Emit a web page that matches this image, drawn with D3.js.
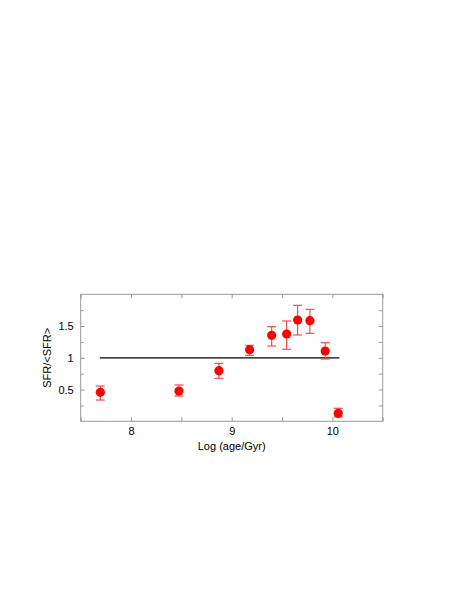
<!DOCTYPE html>
<html><head><meta charset="utf-8">
<script src="https://cdn.jsdelivr.net/npm/d3@7"></script>
<style>body{margin:0;background:#fff}svg{display:block}text{font-family:"Liberation Sans",Arial,sans-serif}</style>
</head><body>
<script>
const logAge = [7.695, 8.476, 8.873, 9.178, 9.397, 9.546, 9.655, 9.777, 9.929, 10.058];
const sfr    = [0.457, 0.477, 0.797, 1.128, 1.354, 1.375, 1.595, 1.584, 1.107, 0.126];
const errHi  = [0.556, 0.572, 0.913, 1.197, 1.490, 1.580, 1.827, 1.764, 1.238, 0.205];
const errLo  = [0.335, 0.398, 0.677, 1.039, 1.186, 1.134, 1.359, 1.386, 0.981, 0.068];
const refLineX = [7.69, 10.07];
const refLineY = [1, 1];
const xTicks = [8, 9, 10];
const xMinor = [7.5, 8.5, 9.5, 10.5];
const yTicks = [0.5, 1, 1.5];
const yMinor = [0.25, 0.75, 1.25, 1.75];
const yTickLabels = ["0.5", "1", "1.5"];

const W = 463, H = 599;
const svg = d3.select("body").append("svg").attr("width", W).attr("height", H);
const x = d3.scaleLinear().domain([7.5, 10.5]).range([80.7, 382.7]);
const y = d3.scaleLinear().domain([0, 2]).range([421.3, 294.3]);
const frame = "#999";

// frame
svg.append("rect").attr("x", x(7.5)).attr("y", y(2)).attr("width", x(10.5) - x(7.5)).attr("height", y(0) - y(2))
  .attr("fill", "none").attr("stroke", frame).attr("stroke-width", 1);

const tl = 4, tm = 3;
// bottom/top ticks
const bx = svg.append("g").attr("transform", `translate(0,${y(0)})`)
  .call(d3.axisBottom(x).tickValues(xTicks).tickSize(-tl).tickFormat(d3.format("d")).tickPadding(6));
const tx = svg.append("g").attr("transform", `translate(0,${y(2)})`)
  .call(d3.axisTop(x).tickValues(xTicks.concat(xMinor)).tickSize(-tl).tickFormat(""));
const bxm = svg.append("g").attr("transform", `translate(0,${y(0)})`)
  .call(d3.axisBottom(x).tickValues(xMinor).tickSize(-tl).tickFormat(""));
const ly = svg.append("g").attr("transform", `translate(${x(7.5)},0)`)
  .call(d3.axisLeft(y).tickValues(yTicks).tickSize(-tl).tickFormat((d, i) => yTickLabels[i]).tickPadding(7));
const lym = svg.append("g").attr("transform", `translate(${x(7.5)},0)`)
  .call(d3.axisLeft(y).tickValues(yMinor).tickSize(-tm).tickFormat(""));
const ry = svg.append("g").attr("transform", `translate(${x(10.5)},0)`)
  .call(d3.axisRight(y).tickValues(yTicks.concat(yMinor)).tickSize(-tl).tickFormat(""));
[bx, tx, bxm, ly, lym, ry].forEach(g => {
  g.select(".domain").remove();
  g.selectAll("line").attr("stroke", frame);
  g.selectAll("text").attr("fill", "#000").style("font-size", "11px");
});

// reference line
svg.append("line").attr("x1", x(refLineX[0])).attr("x2", x(refLineX[1]))
  .attr("y1", y(refLineY[0])).attr("y2", y(refLineY[1])).attr("stroke", "#000").attr("stroke-width", 1.3);

// error bars
const eb = svg.append("g").attr("stroke", "#f04040").attr("stroke-width", 1.1);
logAge.forEach((v, i) => {
  const cx = x(v);
  eb.append("line").attr("x1", cx).attr("x2", cx).attr("y1", y(errLo[i])).attr("y2", y(errHi[i]));
  eb.append("line").attr("x1", cx - 4.5).attr("x2", cx + 4.5).attr("y1", y(errLo[i])).attr("y2", y(errLo[i]));
  eb.append("line").attr("x1", cx - 4.5).attr("x2", cx + 4.5).attr("y1", y(errHi[i])).attr("y2", y(errHi[i]));
});
svg.append("g").selectAll("circle").data(logAge).join("circle")
  .attr("cx", d => x(d)).attr("cy", (d, i) => y(sfr[i])).attr("r", 4.6).attr("fill", "#ff0000");

// labels
svg.append("text").attr("x", (x(7.5) + x(10.5)) / 2).attr("y", 450).attr("text-anchor", "middle")
  .style("font-size", "11px").text("Log (age/Gyr)");
svg.append("text").attr("transform", `translate(51,${y(1)}) rotate(-90)`).attr("text-anchor", "middle")
  .style("font-size", "11px").text("SFR/<SFR>");
</script>
</body></html>
